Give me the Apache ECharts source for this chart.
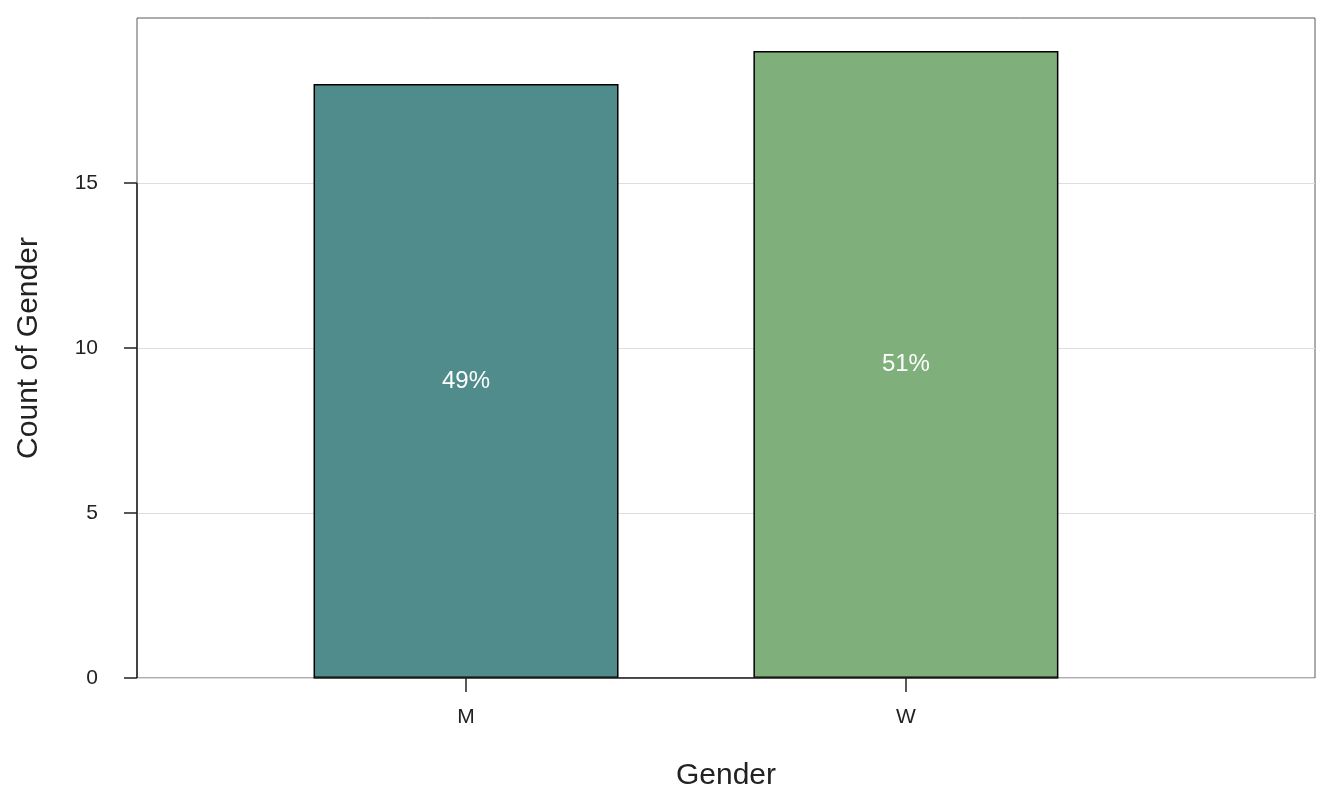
<!DOCTYPE html>
<html>
<head>
<meta charset="utf-8">
<script src="https://cdn.jsdelivr.net/npm/echarts@6/dist/echarts.min.js"></script>
<style>html,body{margin:0;padding:0;background:#fff}#c{width:1344px;height:806px}</style>
</head>
<body>
<div id="c"></div>
<script>
const categories = ['M', 'W'];
const counts = [18, 19];
const barColors = ['#508c8c', '#7faf7b'];
const yTicks = [0, 5, 10, 15];
const xPositions = [1, 2];

const total = counts.reduce((a, b) => a + b, 0);
const X_MIN = 0.252, X_MAX = 2.93, HALF = 0.3466;
const FONT = '"Liberation Sans", Arial, Helvetica, sans-serif';

const chart = echarts.init(document.getElementById('c'));
chart.setOption({
  animation: false,
  grid: { left: 137, right: 29, top: 18, bottom: 128, show: true, borderColor: '#5a5a5a', borderWidth: 1, backgroundColor: 'transparent' },
  xAxis: {
    type: 'value', min: X_MIN, max: X_MAX,
    name: 'Gender', nameLocation: 'middle', nameGap: 83,
    nameTextStyle: { fontFamily: FONT, fontSize: 30, color: '#222' },
    axisLine: { show: false },
    splitLine: { show: false },
    axisTick: { show: true, customValues: xPositions, length: 14, lineStyle: { color: '#222', width: 1.5 } },
    axisLabel: { customValues: xPositions, margin: 29, fontFamily: FONT, fontSize: 21, color: '#222',
      formatter: v => categories[xPositions.indexOf(v)] || '' }
  },
  yAxis: {
    type: 'value', min: 0, max: 20, interval: 5,
    name: 'Count of Gender', nameLocation: 'middle', nameGap: 93,
    nameTextStyle: { fontFamily: FONT, fontSize: 30, color: '#222' },
    axisLine: { show: false },
    axisTick: { show: true, customValues: yTicks, length: 13, lineStyle: { color: '#222', width: 1.5 } },
    axisLabel: { customValues: yTicks, margin: 39, fontFamily: FONT, fontSize: 21, color: '#222' },
    splitLine: { show: true, lineStyle: { color: '#dddddd', width: 1 } }
  },
  series: [{
    type: 'bar',
    barWidth: 305,
    data: counts.map((c, i) => ({ value: [xPositions[i], c], itemStyle: { color: barColors[i] } })),
    itemStyle: { borderColor: '#000', borderWidth: 1.5 },
    label: { show: true, position: 'inside', color: '#fff', fontFamily: FONT, fontSize: 24,
      formatter: p => Math.round(counts[p.dataIndex] / total * 100) + '%' },
    markLine: {
      silent: true, symbol: 'none', label: { show: false },
      lineStyle: { color: '#222', width: 1.5, type: 'solid' },
      data: [
        [{ coord: [X_MIN, yTicks[0]] }, { coord: [X_MIN, yTicks[yTicks.length - 1]] }],
        [{ coord: [xPositions[0] - HALF, 0] }, { coord: [xPositions[xPositions.length - 1] + HALF, 0] }]
      ]
    },
    z: 3
  }]
});
</script>
</body>
</html>
